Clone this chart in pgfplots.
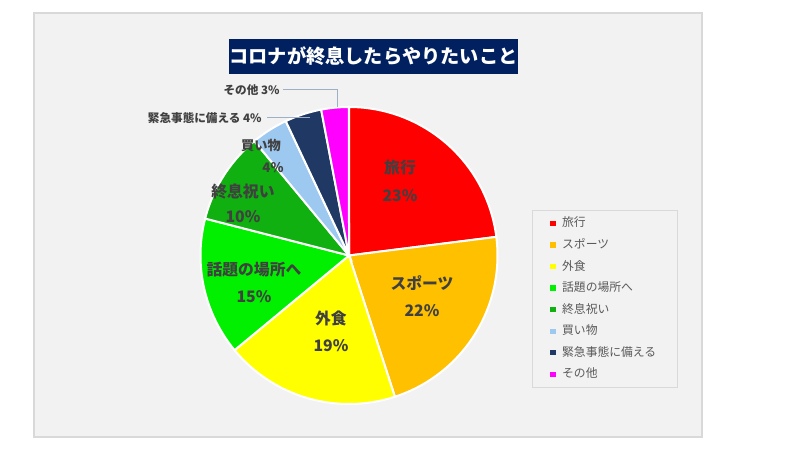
\documentclass[border=0pt]{standalone}
\usepackage{pgfplots}
\pgfplotsset{compat=1.18}
\usepackage{fontspec}
\setmainfont{Noto Sans CJK JP}
\definecolor{panel}{HTML}{F2F2F2}
\definecolor{panelborder}{HTML}{D9D9D9}
\definecolor{navy}{HTML}{002060}
\definecolor{c1}{HTML}{FF0000}
\definecolor{c2}{HTML}{FFC000}
\definecolor{c3}{HTML}{FFFF00}
\definecolor{c4}{HTML}{00F000}
\definecolor{c5}{HTML}{10B010}
\definecolor{c6}{HTML}{9DC8F0}
\definecolor{c7}{HTML}{203864}
\definecolor{c8}{HTML}{FF00FF}
\definecolor{lbl}{HTML}{404040}
\definecolor{leg}{HTML}{595959}
\definecolor{leader}{HTML}{9DB0C8}
% slice: #1 cumulative percent before, #2 percent, #3 colour
\newcommand{\slice}[3]{%
  \addplot[fill=#3, draw=white, line width=1pt, domain=0:1, samples=80, variable=\t]
    ({349+148.5*sin(3.6*(#1+#2*\t))}, {194.5+148.5*cos(3.6*(#1+#2*\t))}) -- (349,194.5) -- cycle;}
\begin{document}
\begin{tikzpicture}
\begin{axis}[
  scale only axis, width=400pt, height=225pt,
  xmin=0, xmax=800, ymin=0, ymax=450,
  hide axis, clip=false,
  legend cell align=left,
  legend image code/.code={\fill[#1, draw=none] (0pt,-1.3pt) rectangle (2.6pt,1.3pt); \path (4.6pt,0pt);},
  legend style={at={(0.665,0.5333)}, anchor=north west, draw=panelborder, fill=panel,
    font=\fontsize{5.9}{7}\selectfont\color{leg}, row sep=2.7pt,
    inner xsep=9pt, inner ysep=2.5pt, nodes={inner sep=0.8pt}},
]
\path[fill=white] (0,0) rectangle (800,450);
\fill[panel, draw=panelborder, line width=0.6pt] (34,13) rectangle (702,437);
\slice{0}{23}{c1}
\addlegendentry{\makebox[48pt][l]{旅行}}
\slice{23}{22}{c2}
\addlegendentry{スポーツ}
\slice{45}{19}{c3}
\addlegendentry{外食}
\slice{64}{15}{c4}
\addlegendentry{話題の場所へ}
\slice{79}{10}{c5}
\addlegendentry{終息祝い}
\slice{89}{4}{c6}
\addlegendentry{買い物}
\slice{93}{4}{c7}
\addlegendentry{緊急事態に備える}
\slice{97}{3}{c8}
\addlegendentry{その他}
% title
\node[fill=navy, text=white, font=\fontsize{9.6}{11}\bfseries, minimum width=144.5pt, minimum height=17.5pt, inner sep=0pt] at (373.5,393.5) {コロナが終息したらやりたいこと};
% slice labels
\begin{scope}[every node/.style={text=lbl, font=\fontsize{7.9}{9}\bfseries, inner sep=0pt}]
\node at (400,282) {旅行};
\node at (400,254) {23\%};
\node at (422,167) {スポーツ};
\node at (422,139) {22\%};
\node at (331,132) {外食};
\node at (331,104) {19\%};
\node at (254,180) {話題の場所へ};
\node at (254,153) {15\%};
\node at (243,258) {終息祝い};
\node at (243,233) {10\%};
\node[font=\fontsize{6.6}{8}\bfseries] at (261,304) {買い物};
\node[font=\fontsize{6.6}{8}\bfseries] at (273,282) {4\%};
\node[font=\fontsize{5.8}{7}\bfseries, anchor=east] at (262,332) {緊急事態に備える 4\%};
\node[font=\fontsize{5.8}{7}\bfseries, anchor=east] at (280,360) {その他 3\%};
\end{scope}
\draw[leader, line width=0.5pt] (283,360) -- (337,360) -- (337,343);
\draw[leader, line width=0.5pt] (267,332) -- (310,332);
\end{axis}
\end{tikzpicture}
\end{document}
